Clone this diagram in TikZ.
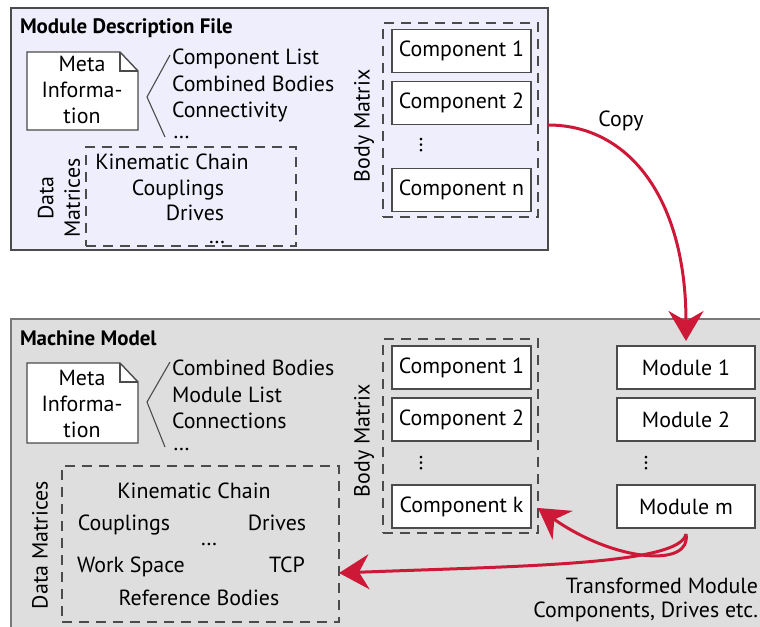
\documentclass[tikz,border=0pt]{standalone}
\usepackage{fontspec}
\setmainfont{PT Sans}
\usetikzlibrary{arrows.meta}
\definecolor{redarrow}{RGB}{206,24,56}
\definecolor{toplav}{RGB}{238,238,252}
\definecolor{botgray}{RGB}{222,222,222}
\definecolor{edge}{RGB}{75,75,75}
\definecolor{edgeb}{RGB}{120,120,120}
\begin{document}
\begin{tikzpicture}[x=1bp,y=-1bp,
  every node/.style={font=\fontsize{22}{26.5}\selectfont, inner sep=0pt, outer sep=0pt},
  panel/.style={draw=edge, line width=1.5bp},
  titletext/.style={font=\fontsize{21}{24}\selectfont\bfseries, anchor=base west},
  item/.style={anchor=base west},
  ctext/.style={anchor=base},
  comp/.style={draw=edge, fill=white, line width=1.4bp, minimum width=139bp, minimum height=43bp},
  dbox/.style={draw=edge, line width=1.3bp, dash pattern=on 10bp off 7bp},
  doc/.style={draw=edge, fill=white, line width=1.4bp},
  brace/.style={draw=edge, line width=1.1bp},
  vlabel/.style={rotate=90, align=center},
  arr/.style={draw=redarrow, line width=3bp, -{Stealth[length=30bp,width=35bp,inset=10bp]}},
]
\useasboundingbox (0,0) rectangle (760,627);

% ---------- top panel ----------
\node[panel, fill=toplav, minimum width=537bp, minimum height=242bp, anchor=north west] (mdf) at (11,8) {};
\node[titletext] (mdft) at (20,34) {Module Description File};

\draw[doc] (27,52) -- (120,52) -- (138,71) -- (138,130) -- (27,130) -- cycle;
\draw[doc, fill=none] (120,52) -- (120,71) -- (138,71);
\node[ctext] (meta1a) at (82,72) {Meta};
\node[ctext] (meta1b) at (82,98) {Informa-};
\node[ctext] (meta1c) at (82,124) {tion};
\draw[brace] (170,55) -- (147,97) -- (165,137);
\node[item] (l1a) at (172,65) {Component List};
\node[item] (l1b) at (172,92) {Combined Bodies};
\node[item] (l1c) at (172,118) {Connectivity};
\node[item] (l1d) at (173,139) {…};

\node[dbox, minimum width=210bp, minimum height=99bp, anchor=north west] (dm1) at (86,147) {};
\node[ctext] (k1) at (172,170) {Kinematic Chain};
\node[ctext] (cp1) at (178,196) {Couplings};
\node[ctext] (dr1) at (195,221) {Drives};
\node[ctext] (e1) at (217,243) {…};
\node[vlabel] (dml1) at (59,198) {Data\\Matrices};

\node[rotate=90] (bml1) at (364,126) {Body Matrix};
\node[dbox, minimum width=155bp, minimum height=194bp, anchor=north west] (bm1) at (383,23) {};
\node[comp] (c11) at (461.5,51) {Component 1};
\node[comp] (c12) at (461.5,103) {Component 2};
\node (cd1) at (421,145) {\rotatebox{90}{…}};
\node[comp] (c1n) at (461.5,190) {Component n};

% ---------- bottom panel ----------
\node[fill=botgray, minimum width=760bp, minimum height=320bp, anchor=north west] (mach) at (11,319) {};
\draw[draw=edgeb, line width=1.5bp] (mach.north east) -- (mach.north west) -- (mach.south west);
\node[titletext] (macht) at (20,345) {Machine Model};

\draw[doc] (27,363) -- (120,363) -- (138,382) -- (138,443) -- (27,443) -- cycle;
\draw[doc, fill=none] (120,363) -- (120,382) -- (138,382);
\node[ctext] (meta2a) at (82,385) {Meta};
\node[ctext] (meta2b) at (82,411) {Informa-};
\node[ctext] (meta2c) at (82,437) {tion};
\draw[brace] (170,362) -- (147,402) -- (165,447);
\node[item] (l2a) at (172,375) {Combined Bodies};
\node[item] (l2b) at (172,402) {Module List};
\node[item] (l2c) at (172,428) {Connections};
\node[item] (l2d) at (173,450) {…};

\node[dbox, minimum width=277bp, minimum height=156bp, anchor=north west] (dm2) at (62,466) {};
\node[ctext] (k2) at (194,498) {Kinematic Chain};
\node[ctext] (cp2) at (124,530) {Couplings};
\node[ctext] (dr2) at (277,530) {Drives};
\node[ctext] (e2) at (209,545) {…};
\node[ctext] (ws2) at (131,572) {Work Space};
\node[ctext] (tcp2) at (287,572) {TCP};
\node[ctext] (rb2) at (199,605) {Reference Bodies};
\node[rotate=90] (dml2) at (40,545) {Data Matrices};

\node[rotate=90] (bml2) at (364,441) {Body Matrix};
\node[dbox, minimum width=155bp, minimum height=194bp, anchor=north west] (bm2) at (383,339) {};
\node[comp] (c21) at (461.5,367.5) {Component 1};
\node[comp] (c22) at (461.5,419.5) {Component 2};
\node (cd2) at (421,463) {\rotatebox{90}{…}};
\node[comp] (c2k) at (461.5,506.5) {Component k};

\node[comp, minimum width=138bp] (m1) at (686,367.5) {Module 1};
\node[comp, minimum width=138bp] (m2) at (686,419.5) {Module 2};
\node (md) at (646,463) {\rotatebox{90}{…}};
\node[comp, minimum width=138bp] (mm) at (686,506.5) {Module m};

\node[anchor=base east] (tr1) at (758,593) {Transformed Module};
\node[anchor=base east] (tr2) at (758,617) {Components, Drives etc.};

% ---------- arrows ----------
\draw[arr, shorten >=5bp] ([yshift=4bp]mdf.east) .. controls (630,125) and (686,200) .. (m1.north);
\node[ctext] (copy) at (621,127) {Copy};
\draw[arr] ([yshift=-6bp]mm.south) .. controls (692,568) and (615,562) .. ([xshift=7bp,yshift=-1.5bp]c2k.east);
\draw[arr] ([yshift=-6bp]mm.south) .. controls (680,565) and (520,566) .. ([yshift=-29bp]dm2.east);
\end{tikzpicture}
\end{document}
